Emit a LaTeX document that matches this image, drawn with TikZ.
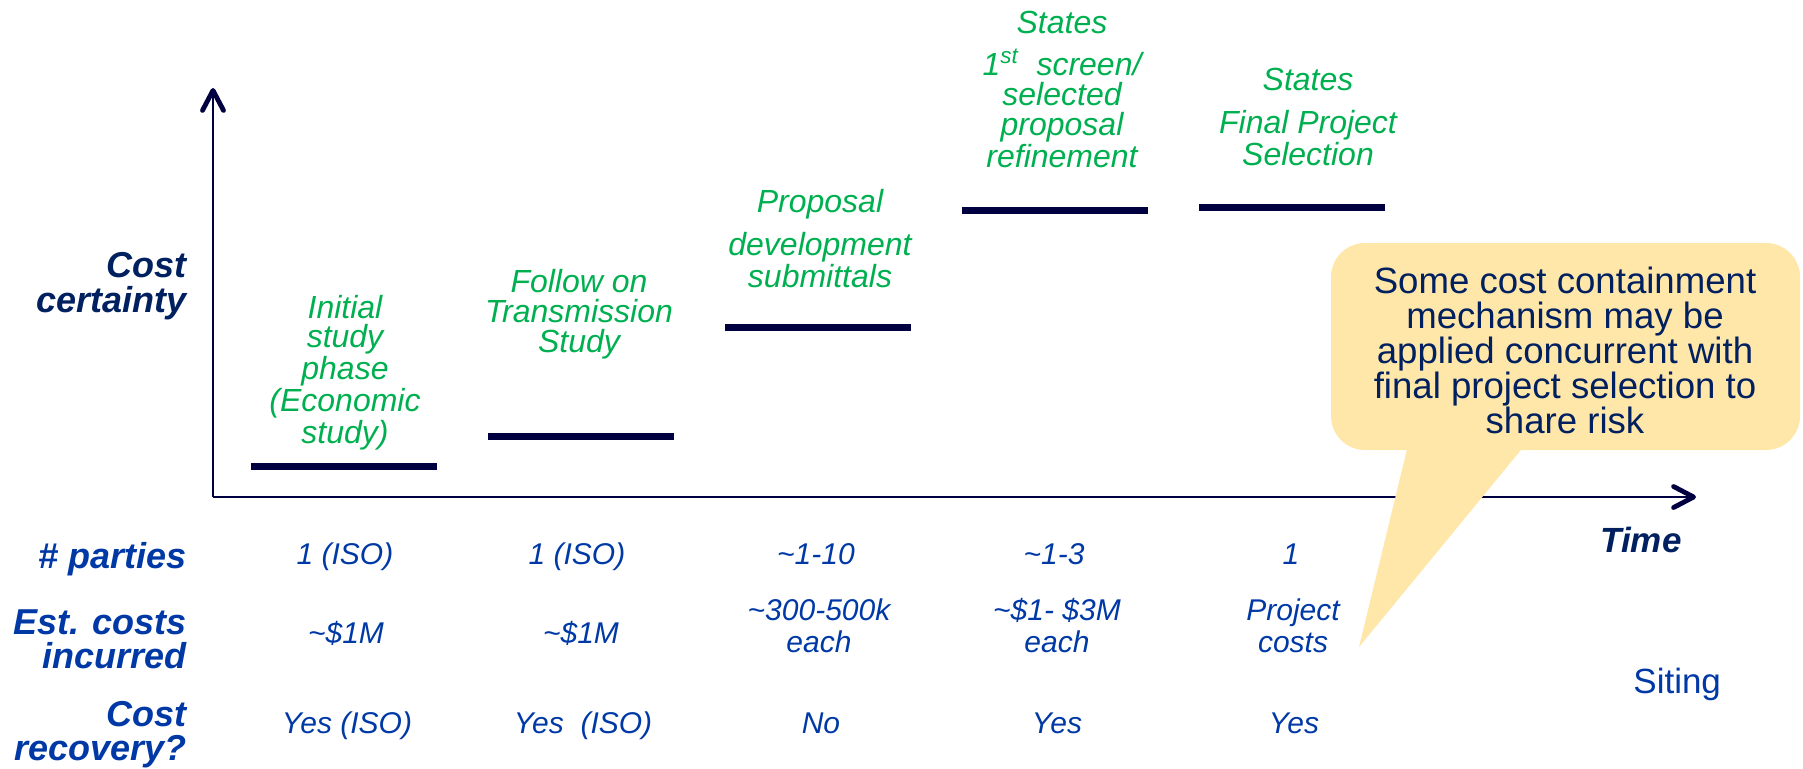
\documentclass[tikz,border=0pt]{standalone}
\usepackage{fontspec}
\setmainfont{Liberation Sans}
\usetikzlibrary{arrows.meta}
\definecolor{grn}{HTML}{00B050}
\definecolor{navy}{HTML}{002060}
\definecolor{rowblue}{HTML}{0039A6}
\definecolor{axisc}{HTML}{000040}
\definecolor{calloutfill}{HTML}{FFE6A9}
\begin{document}
\begin{tikzpicture}[x=0.5pt,y=-0.5pt,
  phase/.style={text=grn, font=\fontsize{16}{14.8}\selectfont\itshape, align=center, anchor=base, inner sep=0pt},
  bar/.style={fill=axisc, minimum width=93pt, minimum height=3.5pt, inner sep=0pt, draw=none},
  rowlabel/.style={text=rowblue, font=\fontsize{18}{17}\selectfont\bfseries\itshape, align=right, anchor=base east, inner sep=0pt},
  val/.style={text=rowblue, font=\fontsize{15}{16}\selectfont\itshape, align=center, anchor=base, inner sep=0pt},
  axisline/.style={draw=axisc, line width=1pt, -{Straight Barb[length=10pt,width=10.5pt,line width=2.4pt,round]}},
  calloutbox/.style={fill=calloutfill, draw=none, rounded corners=17pt, minimum width=234.5pt, minimum height=103.5pt, inner sep=0pt},
  callouttext/.style={text=navy, font=\fontsize{18.3}{17.5}\selectfont, align=center, anchor=base, inner sep=0pt},
 ]
\useasboundingbox (0,0) rectangle (1803,768);

% axes
\coordinate (O) at (213,497);
\coordinate (ytop) at (213,88);
\coordinate (xend) at (1696,497);
\draw[axisline] (O) -- (ytop);
\draw[axisline] (O) -- (xend);

% bars
\node[bar] (b1) at (344,466) {};
\node[bar] (b2) at (581,436) {};
\node[bar] (b3) at (818,327) {};
\node[bar] (b4) at (1055,210) {};
\node[bar] (b5) at (1292,207) {};

% phase texts (anchor = baseline of last line)
\node[phase, font=\fontsize{16}{14.4}\selectfont\itshape] (p1) at (345,443) {Initial\\study\\phase\\(Economic\\study)};
\node[phase] (p2) at (579,352) {Follow on\\Transmission\\Study};
\node[phase] (p3) at (820,287) {Proposal\\[5.5pt]development\\submittals};
\node[phase] (p4) at (1062,167) {States\\[6.5pt]1\textsuperscript{st}\ \ screen/\\selected\\proposal\\refinement};
\node[phase] (p5) at (1308,165) {States\\[6.5pt]Final Project\\Selection};

% axis labels
\node[anchor=base east, align=right, inner sep=0pt, text=navy, font=\fontsize{18}{17.5}\selectfont\bfseries\itshape] (cc) at (187,312) {Cost\\certainty};
\node[anchor=base west, inner sep=0pt, text=navy, font=\fontsize{17.5}{17.5}\selectfont\bfseries\itshape] (time) at (1600,552) {Time};

% callout
\node[calloutbox] (cobox) at (1565.5,346.5) {};
\coordinate (tailA) at (1408,445);
\coordinate (tailB) at (1525,445);
\coordinate (tailtip) at (1359,647);
\fill[calloutfill] (tailA) -- (tailB) -- (tailtip) -- cycle;
\node[callouttext] (cotext) at (1565,433) {Some cost containment\\mechanism may be\\applied concurrent with\\final project selection to\\share risk};

% row labels
\node[rowlabel] (l1) at (187,568) {\# parties};
\node[rowlabel] (l2) at (187,668) {Est. costs\\incurred};
\node[rowlabel] (l3) at (187,760) {Cost\\recovery?};

% row values
\node[val] (v11) at (345,564) {1 (ISO)};
\node[val] (v12) at (577,564) {1 (ISO)};
\node[val] (v13) at (816,564) {\textasciitilde 1-10};
\node[val] (v14) at (1054,564) {\textasciitilde 1-3};
\node[val] (v15) at (1291,564) {1};

\node[val] (v21) at (346,643) {\textasciitilde\$1M};
\node[val] (v22) at (581,643) {\textasciitilde\$1M};
\node[val] (v23) at (819,652) {\textasciitilde 300-500k\\each};
\node[val] (v24) at (1057,652) {\textasciitilde\$1- \$3M\\each};
\node[val] (v25) at (1293,652) {Project\\costs};

\node[val] (v31) at (347,733) {Yes (ISO)};
\node[val] (v32) at (583,733) {Yes\ \ (ISO)};
\node[val] (v33) at (821,733) {No};
\node[val] (v34) at (1057,733) {Yes};
\node[val] (v35) at (1294,733) {Yes};

\node[anchor=base west, inner sep=0pt, text=rowblue, font=\fontsize{17.5}{17.5}\selectfont] (siting) at (1633,693) {Siting};
\end{tikzpicture}
\end{document}
